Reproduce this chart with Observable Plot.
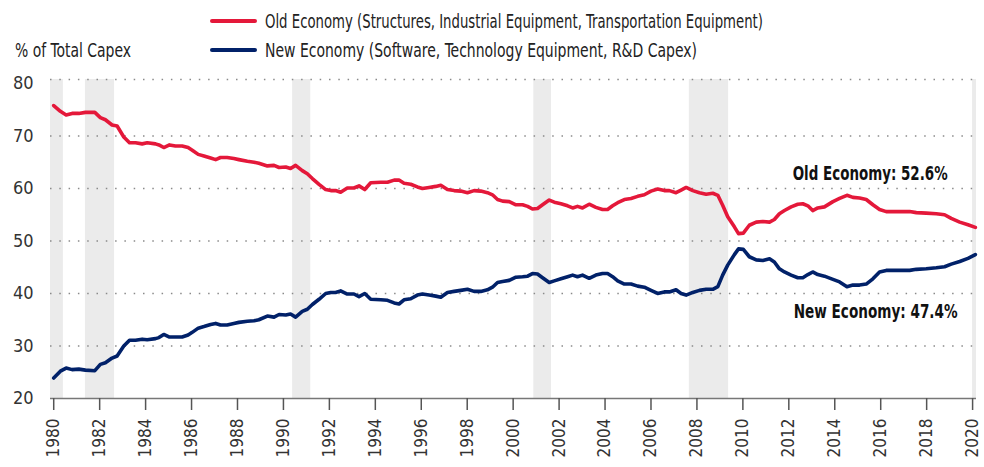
<!DOCTYPE html>
<html>
<head>
<meta charset="utf-8">
<script src="https://cdn.jsdelivr.net/npm/d3@7"></script>
<script src="https://cdn.jsdelivr.net/npm/@observablehq/plot@0.6"></script>
<style>
  body { margin: 0; background: #fff; }
  #wrap { width: 984px; height: 467px; position: relative; font-family: "DejaVu Sans Condensed", "Liberation Sans", sans-serif; }
  #head { position: relative; width: 984px; height: 65px; font-size: 19px; color: #222; }
  #head .sw { position: absolute; left: 210px; width: 47px; height: 4px; border-radius: 2px; }
  #head .lab { position: absolute; line-height: 24px; white-space: nowrap; transform-origin: 0 50%; }
</style>
</head>
<body>
<div id="wrap">
  <div id="head">
    <div class="sw" style="top:19px;background:#e4183a"></div>
    <span class="lab" data-w="498" style="left:265px;top:9px">Old Economy (Structures, Industrial Equipment, Transportation Equipment)</span>
    <span class="lab" data-w="116" style="left:15px;top:38px">% of Total Capex</span>
    <div class="sw" style="top:48px;background:#012169"></div>
    <span class="lab" data-w="432" style="left:265px;top:38px">New Economy (Software, Technology Equipment, R&amp;D Capex)</span>
  </div>
  <div id="chart"></div>
</div>
<script>
// ---- data ----
const dates = [
  1980.00, 1980.29, 1980.54, 1980.80, 1981.09, 1981.38, 1981.79, 1982.03, 1982.25, 1982.54, 1982.76, 1983.05, 1983.30, 1983.56, 1983.85, 1984.07, 1984.43, 1984.58, 1984.79, 1985.04, 1985.30, 1985.59, 1985.85, 1986.03, 1986.29, 1986.54, 1986.83, 1987.05, 1987.26, 1987.55, 1987.84, 1988.06,
  1988.43, 1988.72, 1988.93, 1989.30, 1989.59, 1989.81, 1990.10, 1990.31, 1990.53, 1990.82, 1991.04, 1991.26, 1991.55, 1991.84, 1992.06, 1992.27, 1992.49, 1992.78, 1993.07, 1993.29, 1993.54, 1993.80, 1994.24, 1994.53, 1994.82, 1995.03, 1995.25, 1995.54, 1995.83, 1996.05, 1996.34, 1996.63, 1996.85,
  1997.14, 1997.43, 1997.72, 1998.01, 1998.30, 1998.59, 1998.88, 1999.10, 1999.32, 1999.54, 1999.83, 2000.12, 2000.41, 2000.63, 2000.84, 2001.06, 2001.28, 2001.57, 2001.79, 2002.08, 2002.37, 2002.59, 2002.80, 2003.02, 2003.31, 2003.60, 2003.89, 2004.11, 2004.33, 2004.55, 2004.84,
  2005.13, 2005.42, 2005.71, 2006.00, 2006.29, 2006.58, 2006.80, 2007.09, 2007.31, 2007.53, 2007.82, 2008.11, 2008.40, 2008.69, 2008.91, 2009.12, 2009.34, 2009.63, 2009.81, 2010.02, 2010.28, 2010.58, 2010.87, 2011.16, 2011.37, 2011.59, 2011.81, 2012.10, 2012.39, 2012.61, 2012.83, 2013.04, 2013.26, 2013.55,
  2013.92, 2014.21, 2014.53, 2014.79, 2015.08, 2015.37, 2015.66, 2015.95, 2016.24, 2016.68, 2017.26, 2017.55, 2017.98, 2018.42, 2018.78, 2019.07, 2019.44, 2019.80, 2020.12
];
const oldEconomy = [
  75.8, 74.7, 74.0, 74.3, 74.3, 74.5, 74.5, 73.5, 73.1, 72.1, 71.9, 69.8, 68.7, 68.7, 68.5, 68.7, 68.5, 68.3, 67.8, 68.3, 68.1, 68.1, 67.8, 67.3, 66.5, 66.2, 65.8, 65.5, 65.9, 65.9, 65.7, 65.5,
  65.2, 65.0, 64.8, 64.3, 64.4, 64.0, 64.1, 63.8, 64.4, 63.4, 62.8, 61.9, 60.8, 59.8, 59.6, 59.6, 59.3, 60.1, 60.1, 60.5, 59.8, 61.1, 61.2, 61.2, 61.6, 61.6, 61.0, 60.8, 60.3, 60.0, 60.2, 60.4, 60.6,
  59.8, 59.6, 59.5, 59.2, 59.6, 59.5, 59.2, 58.8, 57.9, 57.6, 57.5, 56.9, 56.9, 56.6, 56.1, 56.2, 56.9, 57.8, 57.4, 57.1, 56.7, 56.3, 56.6, 56.3, 57.0, 56.4, 56.0, 56.0, 56.7, 57.3, 57.9,
  58.1, 58.5, 58.8, 59.5, 59.9, 59.6, 59.6, 59.2, 59.7, 60.2, 59.6, 59.2, 58.9, 59.1, 58.7, 56.8, 54.6, 52.7, 51.4, 51.5, 53.0, 53.6, 53.7, 53.6, 54.1, 55.2, 55.8, 56.5, 57.0, 57.1, 56.7, 55.8, 56.3, 56.5,
  57.5, 58.1, 58.7, 58.3, 58.2, 57.9, 56.9, 56.0, 55.6, 55.6, 55.6, 55.4, 55.3, 55.2, 55.0, 54.3, 53.6, 53.1, 52.6
];
const newEconomy = [
  23.9, 25.2, 25.8, 25.5, 25.6, 25.4, 25.3, 26.5, 26.8, 27.7, 28.1, 30.0, 31.1, 31.1, 31.3, 31.2, 31.4, 31.6, 32.2, 31.7, 31.7, 31.7, 32.1, 32.6, 33.4, 33.7, 34.1, 34.3, 34.0, 34.0, 34.3, 34.5,
  34.7, 34.8, 35.0, 35.7, 35.5, 36.0, 35.9, 36.1, 35.5, 36.6, 37.0, 37.9, 38.9, 40.0, 40.2, 40.2, 40.5, 39.9, 39.9, 39.4, 40.0, 38.9, 38.8, 38.7, 38.2, 38.0, 38.8, 39.0, 39.7, 39.9, 39.7, 39.5, 39.3,
  40.2, 40.4, 40.6, 40.8, 40.4, 40.4, 40.7, 41.2, 42.1, 42.3, 42.5, 43.1, 43.2, 43.3, 43.8, 43.7, 43.0, 42.1, 42.4, 42.8, 43.2, 43.5, 43.2, 43.5, 42.9, 43.5, 43.8, 43.8, 43.2, 42.4, 41.8,
  41.8, 41.4, 41.2, 40.6, 40.0, 40.3, 40.3, 40.7, 40.0, 39.7, 40.2, 40.6, 40.8, 40.8, 41.3, 43.5, 45.4, 47.4, 48.5, 48.4, 47.0, 46.4, 46.3, 46.6, 46.0, 44.7, 44.1, 43.5, 43.0, 43.0, 43.6, 44.1, 43.6, 43.3,
  42.7, 42.2, 41.3, 41.6, 41.6, 41.8, 42.8, 44.1, 44.4, 44.4, 44.4, 44.6, 44.7, 44.9, 45.1, 45.6, 46.1, 46.7, 47.4
];
const recessionStart = [1979.86, 1981.38, 1990.40, 2000.90, 2007.67, 2020.00];
const recessionEnd   = [1980.42, 1982.65, 1991.19, 2001.67, 2009.38, 2020.17];
const xTicks = [1980, 1982, 1984, 1986, 1988, 1990, 1992, 1994, 1996, 1998, 2000, 2002, 2004, 2006, 2008, 2010, 2012, 2014, 2016, 2018, 2020];
const yTicks = [20, 30, 40, 50, 60, 70, 80];
const gridValues = [30, 40, 50, 60, 70];
const xDomain = [1979.86, 2020.17];
const yDomain = [20, 80.76];
const annotationText = ["Old Economy: 52.6%", "New Economy: 47.4%"];
const annotationX = [2015.54, 2015.78];
const annotationY = [62.87, 36.6];
const annotationWidth = [155, 164];

// ---- build tables ----
const oldRows = dates.map((d, i) => ({date: d, value: oldEconomy[i]}));
const newRows = dates.map((d, i) => ({date: d, value: newEconomy[i]}));
const recessions = recessionStart.map((s, i) => ({start: s, end: recessionEnd[i]}));
const annotations = annotationText.map((t, i) => ({text: t, x: annotationX[i], y: annotationY[i], w: annotationWidth[i]}));

const RED = "#e4183a", NAVY = "#012169";
const FONT = '"DejaVu Sans Condensed", "Liberation Sans", sans-serif';

const chart = Plot.plot({
  width: 984,
  height: 402,
  marginTop: 14,
  marginBottom: 69,
  marginLeft: 50,
  marginRight: 8,
  x: {domain: xDomain},
  y: {domain: yDomain},
  style: {fontFamily: FONT, fontSize: "17px", color: "#333", background: "white", overflow: "visible"},
  marks: [
    Plot.rect(recessions, {x1: "start", x2: "end", fill: "#ebebeb"}),
    Plot.ruleY(gridValues, {stroke: "#8a8a8a", strokeWidth: 1.5, strokeDasharray: "1.5,7.8"}),
    Plot.ruleY([yDomain[1]], {stroke: "#8a8a8a", strokeWidth: 1.5, strokeDasharray: "1.5,7.8"}),
    Plot.ruleY([yDomain[0]], {stroke: "#777", strokeWidth: 1.5}),
    Plot.line(oldRows, {x: "date", y: "value", stroke: RED, strokeWidth: 3.6, strokeLinejoin: "round", strokeLinecap: "round"}),
    Plot.line(newRows, {x: "date", y: "value", stroke: NAVY, strokeWidth: 3.6, strokeLinejoin: "round", strokeLinecap: "round"}),
    Plot.text(annotations, {x: "x", y: "y", text: "text", fontWeight: "bold", fontSize: 20, fill: "#111", textAnchor: "middle", className: "annot"}),
    Plot.axisX({ticks: xTicks, tickFormat: d => String(d), tickRotate: -90, tickSize: 12, tickPadding: 8, stroke: "#555", strokeWidth: 1.5, label: null, fill: "#333", fontSize: 17}),
    Plot.axisY({ticks: yTicks, tickSize: 0, tickPadding: 17, label: null, fill: "#333", fontSize: 18})
  ]
});
document.getElementById("chart").appendChild(chart);

// condense annotation texts horizontally to the reference widths (scale about their centre)
d3.select(chart).selectAll(".annot text").each(function(d, i) {
  const w = this.getBBox().width;
  const s = annotations[i].w / w;
  const t = this.getAttribute("transform") || "";
  this.setAttribute("transform", `${t} scale(${s},1)`.trim());
});
// condense header labels to the reference widths
document.querySelectorAll("#head .lab").forEach(el => {
  const w = +el.dataset.w;
  const actual = el.getBoundingClientRect().width;
  if (actual > 0) el.style.transform = `scaleX(${w / actual})`;
});
</script>
</body>
</html>
